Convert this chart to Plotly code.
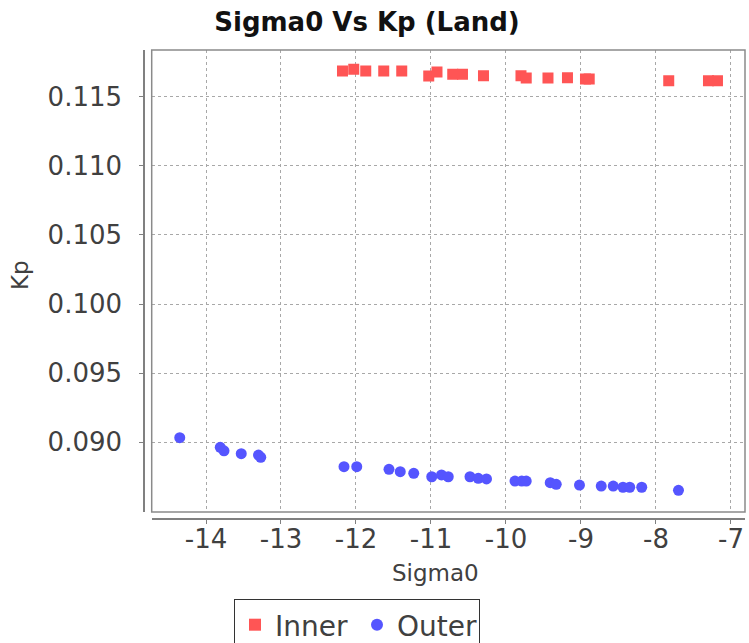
import plotly.graph_objects as go

# ---- data ----
inner_x = [-12.18, -12.03, -11.87, -11.63, -11.39, -11.03, -10.92, -10.71, -10.58, -10.30,
           -9.80, -9.73, -9.44, -9.18, -8.94, -8.89, -7.83, -7.30, -7.18]
inner_y = [0.11686, 0.11698, 0.11686, 0.11686, 0.11686, 0.11650, 0.11679, 0.11662, 0.11662, 0.11651,
           0.11652, 0.11636, 0.11636, 0.11637, 0.11628, 0.11628, 0.11615, 0.11615, 0.11615]

outer_x = [-14.35, -13.81, -13.76, -13.53, -13.30, -13.27, -12.16, -11.99, -11.56, -11.41,
           -11.23, -10.99, -10.86, -10.77, -10.48, -10.37, -10.26, -9.88, -9.79, -9.73,
           -9.41, -9.33, -9.02, -8.73, -8.57, -8.44, -8.35, -8.19, -7.70]
outer_y = [0.09033, 0.08963, 0.08938, 0.08917, 0.08907, 0.08891, 0.08823, 0.08823, 0.08804, 0.08787,
           0.08775, 0.08750, 0.08763, 0.08750, 0.08750, 0.08739, 0.08734, 0.08719, 0.08719, 0.08719,
           0.08707, 0.08695, 0.08690, 0.08683, 0.08683, 0.08674, 0.08674, 0.08674, 0.08652]

x_ticks = [-14, -13, -12, -11, -10, -9, -8, -7]
y_ticks = [0.090, 0.095, 0.100, 0.105, 0.110, 0.115]

FONT = "DejaVu Sans"
TXT = "#404040"
GRID = "#A8A8A8"
AXIS = "#808080"

W, H = 749, 643
ML, MR, MT, MB = 144, 4, 50, 124
pw = W - ML - MR
ph = H - MT - MB
dx = 7.7 / pw   # gap between offset axis line and plot frame
dy = 7.0 / ph

fig = go.Figure()
fig.add_trace(go.Scatter(
    x=inner_x, y=inner_y, mode="markers", name="Inner",
    marker=dict(symbol="square", size=11, color="#FF5555", line=dict(width=0)),
))
fig.add_trace(go.Scatter(
    x=outer_x, y=outer_y, mode="markers", name="Outer",
    marker=dict(symbol="circle", size=11, color="#5555FF", line=dict(width=0)),
))

fig.update_layout(
    width=W, height=H,
    margin=dict(l=ML, r=MR, t=MT, b=MB, autoexpand=False),
    paper_bgcolor="white", plot_bgcolor="white",
    font=dict(family=FONT, color=TXT),
    title=dict(text="<b>Sigma0 Vs Kp (Land)</b>", x=0.49, xanchor="center",
               y=1 - 22 / H, yanchor="middle", xref="container", yref="container",
               font=dict(size=26, color="#111111", family=FONT)),
    showlegend=True,
    legend=dict(orientation="h", x=(234 - ML) / pw, xanchor="left",
                y=(519 - 599) / ph, yanchor="top",
                bordercolor="#333333", borderwidth=1, bgcolor="white",
                font=dict(size=28, color=TXT, family=FONT),
                entrywidth=77, entrywidthmode="pixels",
                itemsizing="constant"),
    xaxis=dict(
        range=[-14.724, -6.813], domain=[dx, 1], anchor="free", position=0,
        tickvals=x_ticks, ticktext=[str(v) for v in x_ticks],
        showgrid=True, gridcolor=GRID, griddash="3px,3px", gridwidth=1,
        zeroline=False, showline=True, linecolor=AXIS, linewidth=1.5,
        ticks="outside", ticklen=4, tickcolor=AXIS, tickwidth=1,
        ticklabelstandoff=-7,
        tickfont=dict(size=26, color=TXT, family=FONT),
    ),
    yaxis=dict(
        range=[0.08495, 0.11838], domain=[dy, 1], anchor="free", position=0,
        tickvals=y_ticks, ticktext=["%.3f" % v for v in y_ticks],
        showgrid=True, gridcolor=GRID, griddash="3px,3px", gridwidth=1,
        zeroline=False, showline=True, linecolor=AXIS, linewidth=1.5,
        ticks="outside", ticklen=4, tickcolor=AXIS, tickwidth=1,
        ticklabelstandoff=12,
        tickfont=dict(size=26, color=TXT, family=FONT),
    ),
    shapes=[dict(type="rect", xref="paper", yref="paper", x0=dx, x1=1, y0=dy, y1=1,
                 line=dict(color="#8A8A8A", width=1.5), layer="above")],
    annotations=[
        dict(text="Sigma0", xref="paper", yref="paper", x=(435 - ML) / pw, y=(519 - 573) / ph,
             xanchor="center", yanchor="middle", showarrow=False,
             font=dict(size=23, color=TXT, family=FONT)),
        dict(text="Kp", xref="paper", yref="paper", x=(20 - ML) / pw, y=(519 - 275) / ph,
             xanchor="center", yanchor="middle", showarrow=False, textangle=-90,
             font=dict(size=23, color=TXT, family=FONT)),
    ],
)

fig.write_html("out.html", config={"displayModeBar": False},
               post_script="document.body.style.margin='0';document.body.style.overflow='hidden';")
